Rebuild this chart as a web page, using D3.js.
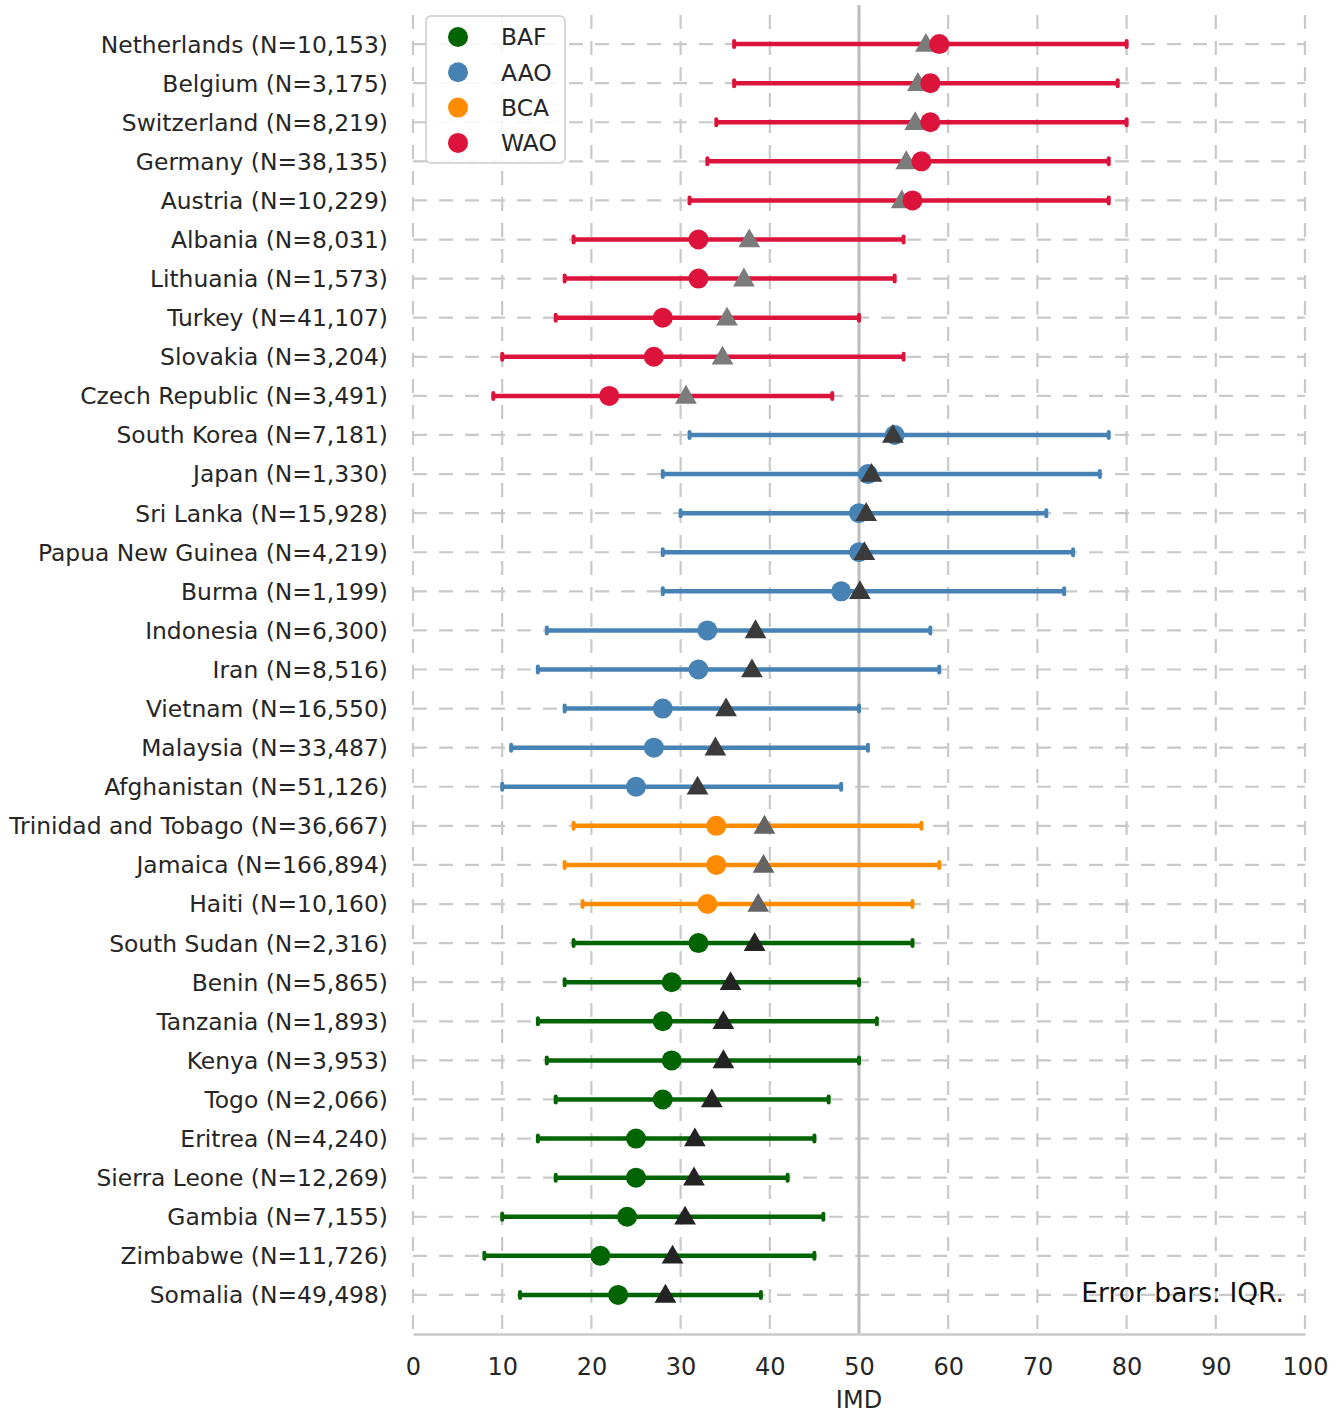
<!DOCTYPE html>
<html>
<head>
<meta charset="utf-8">
<script src="https://cdn.jsdelivr.net/npm/d3@7"></script>
<style>
  body { margin: 0; background: #fff; }
  text { font-family: "DejaVu Sans", sans-serif; }
</style>
</head>
<body>
<div id="chart"></div>
<script>
// rows top to bottom
var countries = ["Netherlands (N=10,153)", "Belgium (N=3,175)", "Switzerland (N=8,219)", "Germany (N=38,135)",
  "Austria (N=10,229)", "Albania (N=8,031)", "Lithuania (N=1,573)", "Turkey (N=41,107)", "Slovakia (N=3,204)",
  "Czech Republic (N=3,491)", "South Korea (N=7,181)", "Japan (N=1,330)", "Sri Lanka (N=15,928)",
  "Papua New Guinea (N=4,219)", "Burma (N=1,199)", "Indonesia (N=6,300)", "Iran (N=8,516)", "Vietnam (N=16,550)",
  "Malaysia (N=33,487)", "Afghanistan (N=51,126)", "Trinidad and Tobago (N=36,667)", "Jamaica (N=166,894)",
  "Haiti (N=10,160)", "South Sudan (N=2,316)", "Benin (N=5,865)", "Tanzania (N=1,893)", "Kenya (N=3,953)",
  "Togo (N=2,066)", "Eritrea (N=4,240)", "Sierra Leone (N=12,269)", "Gambia (N=7,155)", "Zimbabwe (N=11,726)",
  "Somalia (N=49,498)"];
var groups = ["WAO","WAO","WAO","WAO","WAO","WAO","WAO","WAO","WAO","WAO",
  "AAO","AAO","AAO","AAO","AAO","AAO","AAO","AAO","AAO","AAO",
  "BCA","BCA","BCA",
  "BAF","BAF","BAF","BAF","BAF","BAF","BAF","BAF","BAF","BAF"];
var medians = [59, 58, 58, 57, 56, 32, 32, 28, 27, 22,
  54, 51, 50, 50, 48, 33, 32, 28, 27, 25,
  34, 34, 33,
  32, 29, 28, 29, 28, 25, 25, 24, 21, 23];
var q1 = [36, 36, 34, 33, 31, 18, 17, 16, 10, 9,
  31, 28, 30, 28, 28, 15, 14, 17, 11, 10,
  18, 17, 19,
  18, 17, 14, 15, 16, 14, 16, 10, 8, 12];
var q3 = [80, 79, 80, 78, 78, 55, 54, 50, 55, 47,
  78, 77, 71, 74, 73, 58, 59, 50, 51, 48,
  57, 59, 56,
  56, 50, 52, 50, 46.6, 45, 42, 46, 45, 39];
var means = [57.5, 56.6, 56.3, 55.3, 54.8, 37.7, 37.1, 35.2, 34.7, 30.6,
  53.8, 51.4, 50.8, 50.6, 50.1, 38.4, 38, 35.1, 33.9, 31.9,
  39.4, 39.3, 38.7,
  38.3, 35.6, 34.8, 34.8, 33.5, 31.6, 31.5, 30.5, 29.1, 28.3];
var legendGroups = ["BAF", "AAO", "BCA", "WAO"];
var groupColors = ["#006400", "#4682b4", "#ff8c00", "#dc143c"];
var triColors = ["#232323", "#3b3b3b", "#646464", "#7b7b7b"];
var xTicks = [0, 10, 20, 30, 40, 50, 60, 70, 80, 90, 100];

var svgWidth = 1340, svgHeight = 1415;
var plotLeft = 413, plotRight = 1305, plotTop = 5, plotBottom = 1334;

var svg = d3.select("#chart").append("svg")
    .attr("width", svgWidth)
    .attr("height", svgHeight);

var x = d3.scaleLinear().domain([0, 100]).range([plotLeft, plotRight]);
var y = d3.scaleLinear().domain([-1, countries.length]).range([plotTop, plotBottom]);
var color = d3.scaleOrdinal().domain(legendGroups).range(groupColors);
var triColor = d3.scaleOrdinal().domain(legendGroups).range(triColors);

var rows = countries.map(function(c, i) {
    return {name: c, i: i, group: groups[i], med: medians[i], lo: q1[i], hi: q3[i], mean: means[i]};
});

// grid
var grid = svg.append("g");
grid.selectAll(".hgrid")
    .data(rows)
  .enter().append("line")
    .attr("x1", plotLeft).attr("x2", plotRight)
    .attr("y1", d => y(d.i)).attr("y2", d => y(d.i))
    .style("stroke", "#c9c9c9")
    .style("stroke-width", 2.2)
    .style("stroke-dasharray", "14,12");
grid.selectAll(".vgrid")
    .data(xTicks)
  .enter().append("line")
    .attr("x1", d => x(d)).attr("x2", d => x(d))
    .attr("y1", plotTop).attr("y2", plotBottom)
    .style("stroke", "#c9c9c9")
    .style("stroke-width", 2.2)
    .style("stroke-dasharray", "14,12")
    .style("stroke-dashoffset", -10);

// reference line at 50
svg.append("line")
    .attr("x1", x(50)).attr("x2", x(50))
    .attr("y1", plotTop).attr("y2", plotBottom)
    .style("stroke", "#bdbdbd")
    .style("stroke-width", 3);

// x axis
var xAxis = d3.axisBottom(x).tickValues(xTicks).tickSize(0).tickPadding(24);
var gx = svg.append("g")
    .attr("transform", "translate(0," + plotBottom + ")")
    .call(xAxis);
gx.select(".domain").style("stroke", "#c9c9c9").style("stroke-width", 2.5);
gx.selectAll("text")
    .style("font-size", "24px")
    .style("fill", "#262626")
    .style("font-family", "DejaVu Sans, sans-serif");

svg.append("text")
    .attr("x", x(50))
    .attr("y", 1408)
    .style("text-anchor", "middle")
    .style("font-size", "24px")
    .style("fill", "#262626")
    .text("IMD");

// y labels
svg.selectAll(".ylab")
    .data(rows)
  .enter().append("text")
    .attr("x", 388)
    .attr("y", d => y(d.i))
    .attr("dy", "0.36em")
    .style("text-anchor", "end")
    .style("font-size", "23.4px")
    .style("fill", "#262626")
    .text(d => d.name);

// error bars
var bars = svg.append("g");
bars.selectAll(".err")
    .data(rows)
  .enter().append("line")
    .attr("x1", d => x(d.lo)).attr("x2", d => x(d.hi))
    .attr("y1", d => y(d.i)).attr("y2", d => y(d.i))
    .style("stroke", d => color(d.group))
    .style("stroke-width", 4.5);
["lo", "hi"].forEach(function(k) {
    bars.selectAll(".cap" + k)
        .data(rows)
      .enter().append("line")
        .attr("x1", d => x(d[k])).attr("x2", d => x(d[k]))
        .attr("y1", d => y(d.i) - 3).attr("y2", d => y(d.i) + 3)
        .style("stroke", d => color(d.group))
        .style("stroke-width", 4)
        .style("stroke-linecap", "round");
});

var tri = d3.symbol().type(d3.symbolTriangle).size(205);

function drawCircle(g, d) {
    g.append("circle")
        .attr("cx", x(d.med)).attr("cy", y(d.i))
        .attr("r", 10)
        .style("fill", color(d.group));
}
function drawTri(g, d) {
    g.append("path")
        .attr("d", tri)
        .attr("transform", "translate(" + x(d.mean) + "," + (y(d.i) + 1.5) + ")")
        .style("fill", triColor(d.group));
}

var marks = svg.append("g");
rows.forEach(function(d) {
    var g = marks.append("g");
    if (d.group === "WAO") { drawTri(g, d); drawCircle(g, d); }
    else { drawCircle(g, d); drawTri(g, d); }
});

// legend
var legend = svg.append("g");
legend.append("rect")
    .attr("x", 426).attr("y", 16)
    .attr("width", 139).attr("height", 147)
    .attr("rx", 5)
    .style("fill", "#fff").style("fill-opacity", 0.85)
    .style("stroke", "#cccccc").style("stroke-width", 1.5);
legendGroups.forEach(function(gname, i) {
    var ly = 37 + i * 35.3;
    legend.append("circle")
        .attr("cx", 458).attr("cy", ly).attr("r", 10)
        .style("fill", color(gname));
    legend.append("text")
        .attr("x", 501).attr("y", ly).attr("dy", "0.36em")
        .style("font-size", "23.4px").style("fill", "#262626")
        .text(gname);
});

svg.append("text")
    .attr("x", 1284).attr("y", 1302)
    .style("text-anchor", "end")
    .style("font-size", "26.5px")
    .style("fill", "#111")
    .text("Error bars: IQR.");
</script>
</body>
</html>
